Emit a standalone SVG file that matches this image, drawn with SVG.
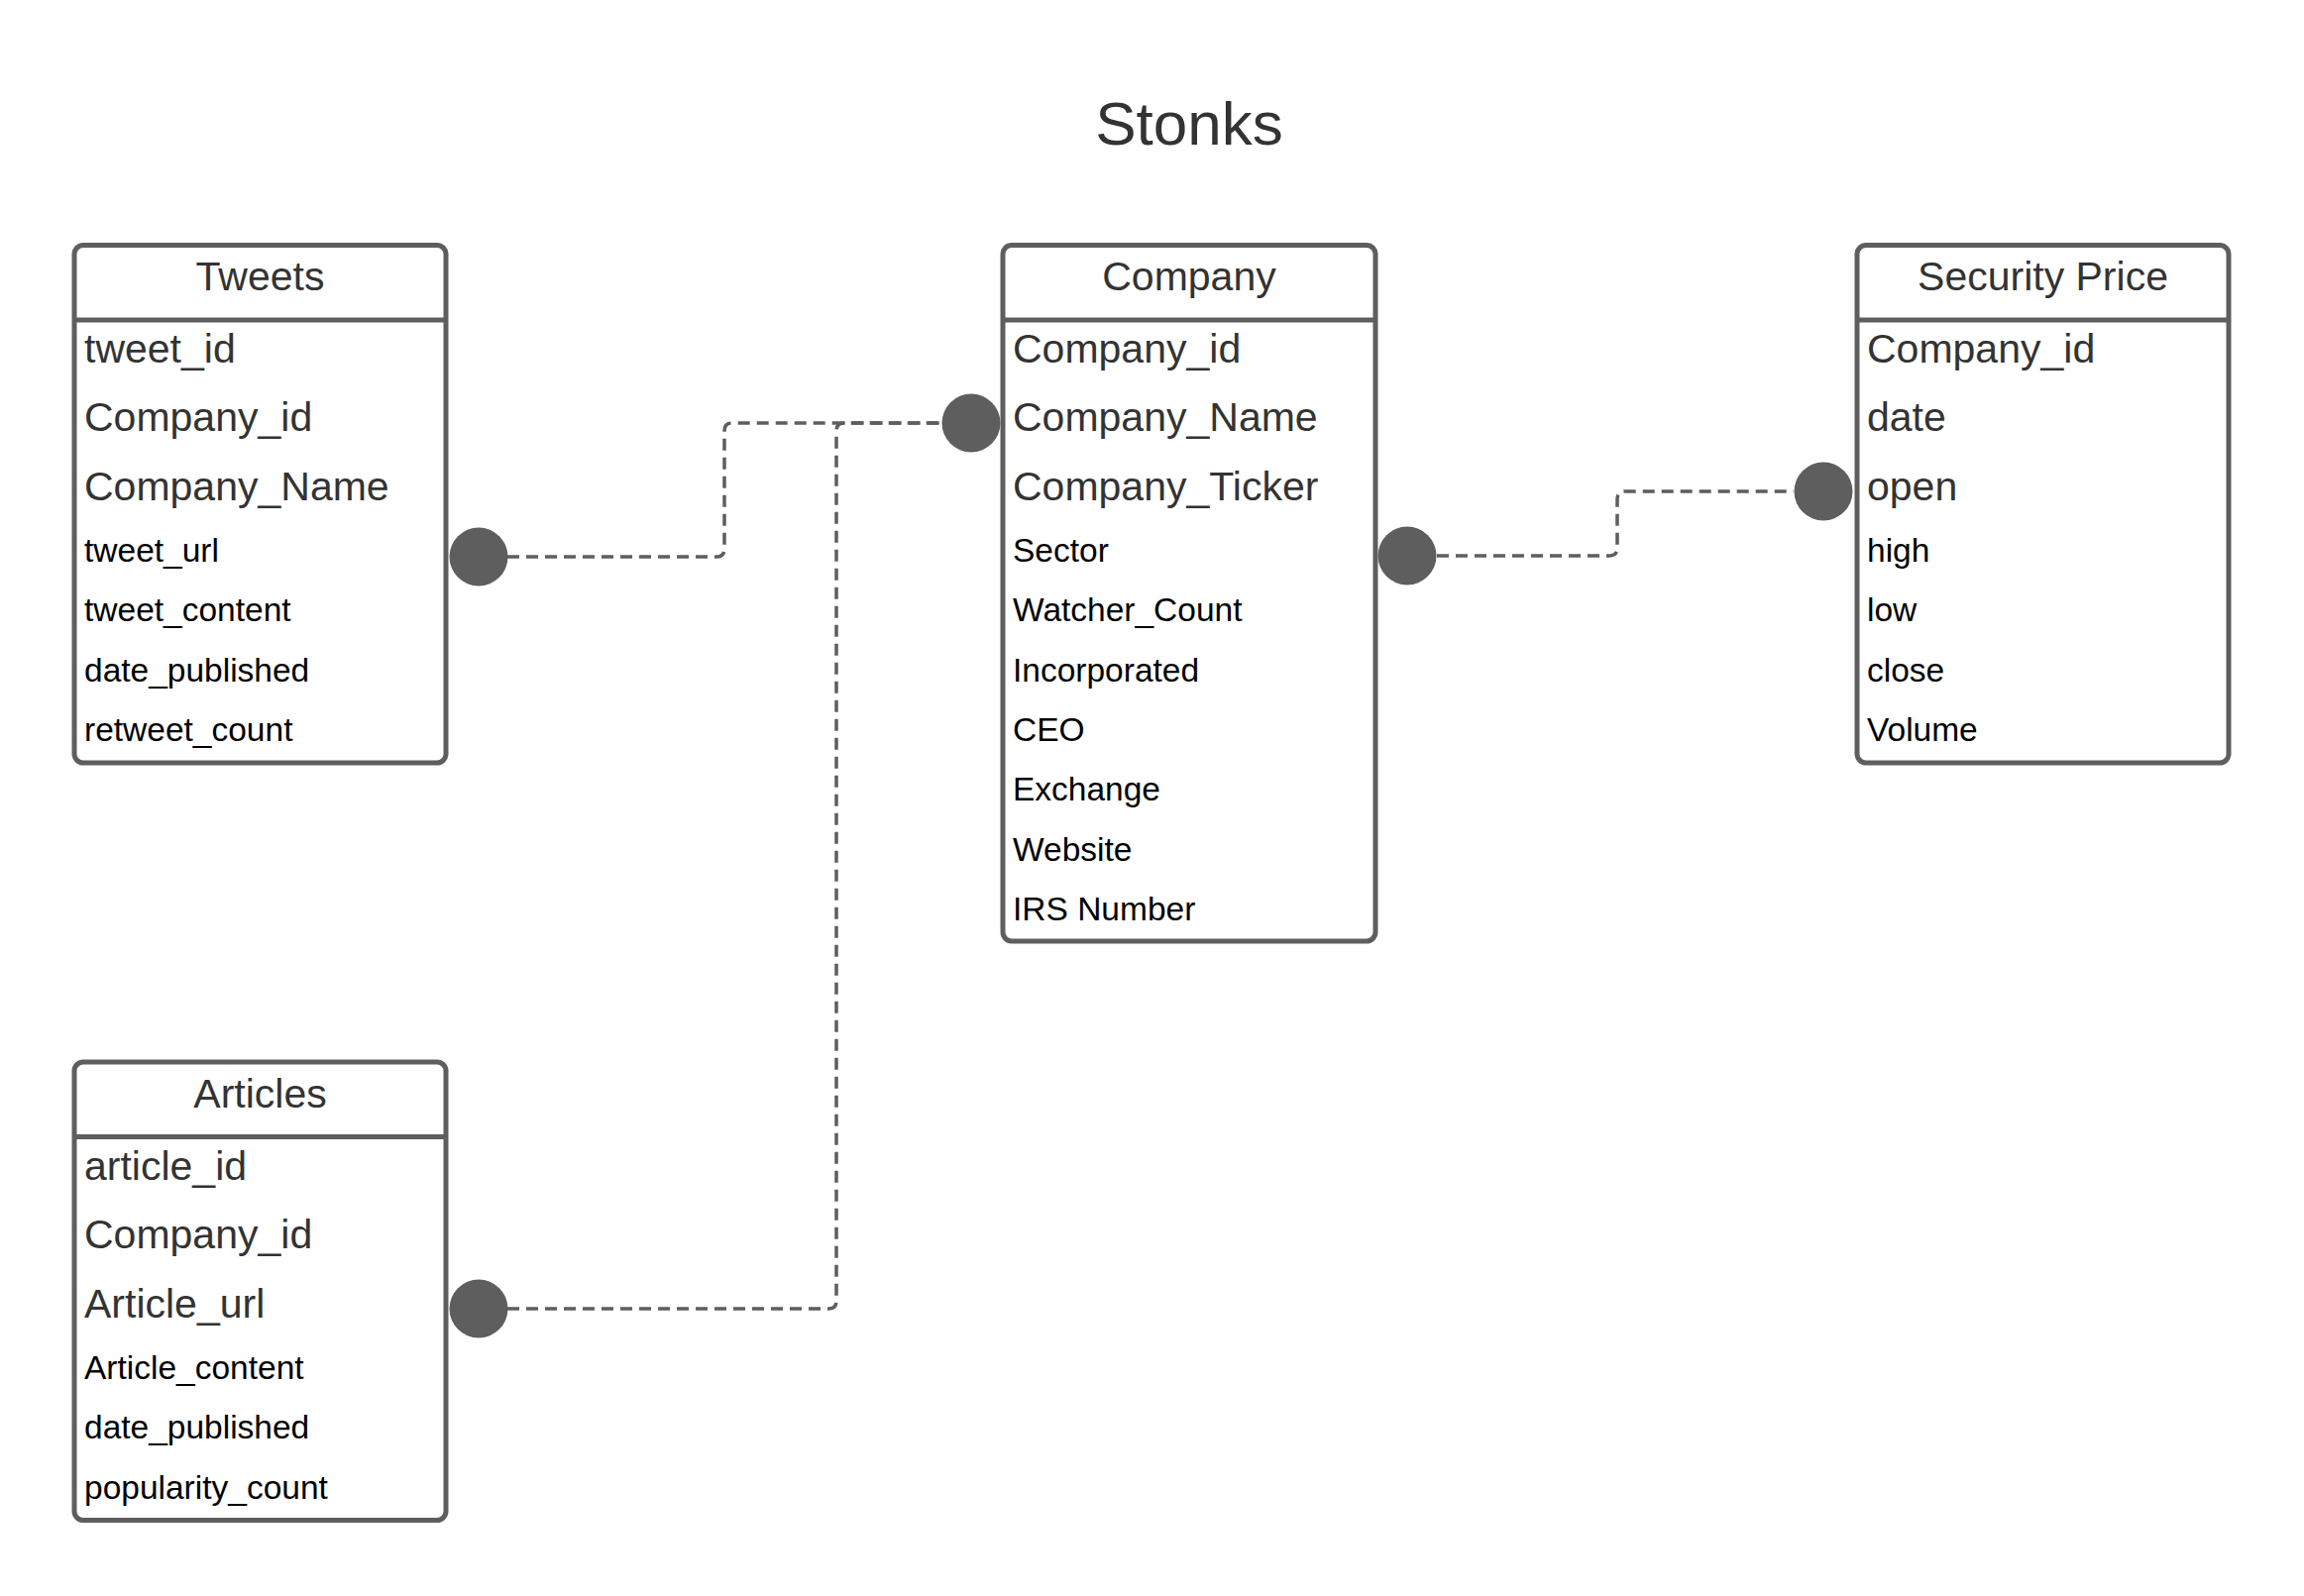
<svg xmlns="http://www.w3.org/2000/svg" width="2325" height="1611" viewBox="0 0 2325 1611">
<style>
.box{fill:#fff;stroke:#5e5e5e;stroke-width:5}
.sep{stroke:#5e5e5e;stroke-width:5}
.hdr{font-family:"Liberation Sans",Arial,sans-serif;font-size:41px;fill:#333;text-anchor:middle}
.big{font-family:"Liberation Sans",Arial,sans-serif;font-size:41px;fill:#333}
.sm{font-family:"Liberation Sans",Arial,sans-serif;font-size:33.5px;fill:#000}
.title{font-family:"Liberation Sans",Arial,sans-serif;font-size:62px;fill:#333;text-anchor:middle}
.con{fill:none;stroke:#5e5e5e;stroke-width:3.5;stroke-dasharray:12 7}
.dot{fill:#5e5e5e}
</style>
<rect width="2325" height="1611" fill="#fff"/>
<text class="title" x="1200" y="146">Stonks</text>

<g id="connectors">
<path class="con" d="M512 562 H723 Q731 562 731 554 V435 Q731 427 739 427 H950"/>
<path class="con" d="M512 1321 H836 Q844 1321 844 1313 V435 Q844 427 852 427 H950"/>
<path class="con" d="M1450 561 H1624 Q1632 561 1632 553 V504 Q1632 496 1640 496 H1810"/>
<circle class="dot" cx="483" cy="562" r="29.5"/>
<circle class="dot" cx="483" cy="1321" r="29.5"/>
<circle class="dot" cx="980" cy="427" r="29.5"/>
<circle class="dot" cx="1420" cy="561" r="29.5"/>
<circle class="dot" cx="1840" cy="496" r="29.5"/>
</g>

<g id="tweets">
<rect class="box" x="75" y="247.5" width="375" height="522.5" rx="9"/>
<line class="sep" x1="75" y1="323" x2="450" y2="323"/>
<text class="hdr" x="262.5" y="293">Tweets</text>
<text class="big" x="85" y="366">tweet_id</text>
<text class="big" x="85" y="435">Company_id</text>
<text class="big" x="85" y="505">Company_Name</text>
<text class="sm" x="85" y="567">tweet_url</text>
<text class="sm" x="85" y="627">tweet_content</text>
<text class="sm" x="85" y="688">date_published</text>
<text class="sm" x="85" y="748">retweet_count</text>
</g>

<g id="company">
<rect class="box" x="1012" y="247.5" width="376" height="702.5" rx="9"/>
<line class="sep" x1="1012" y1="323" x2="1388" y2="323"/>
<text class="hdr" x="1200" y="293">Company</text>
<text class="big" x="1022" y="366">Company_id</text>
<text class="big" x="1022" y="435">Company_Name</text>
<text class="big" x="1022" y="505">Company_Ticker</text>
<text class="sm" x="1022" y="567">Sector</text>
<text class="sm" x="1022" y="627">Watcher_Count</text>
<text class="sm" x="1022" y="688">Incorporated</text>
<text class="sm" x="1022" y="748">CEO</text>
<text class="sm" x="1022" y="808">Exchange</text>
<text class="sm" x="1022" y="869">Website</text>
<text class="sm" x="1022" y="929">IRS Number</text>
</g>

<g id="security-price">
<rect class="box" x="1874" y="247.5" width="375" height="522.5" rx="9"/>
<line class="sep" x1="1874" y1="323" x2="2249" y2="323"/>
<text class="hdr" x="2061.5" y="293">Security Price</text>
<text class="big" x="1884" y="366">Company_id</text>
<text class="big" x="1884" y="435">date</text>
<text class="big" x="1884" y="505">open</text>
<text class="sm" x="1884" y="567">high</text>
<text class="sm" x="1884" y="627">low</text>
<text class="sm" x="1884" y="688">close</text>
<text class="sm" x="1884" y="748">Volume</text>
</g>

<g id="articles">
<rect class="box" x="75" y="1072" width="375" height="462.5" rx="9"/>
<line class="sep" x1="75" y1="1147.5" x2="450" y2="1147.5"/>
<text class="hdr" x="262.5" y="1117.5">Articles</text>
<text class="big" x="85" y="1190.5">article_id</text>
<text class="big" x="85" y="1259.5">Company_id</text>
<text class="big" x="85" y="1329.5">Article_url</text>
<text class="sm" x="85" y="1391.5">Article_content</text>
<text class="sm" x="85" y="1451.5">date_published</text>
<text class="sm" x="85" y="1512.5">popularity_count</text>
</g>
</svg>
